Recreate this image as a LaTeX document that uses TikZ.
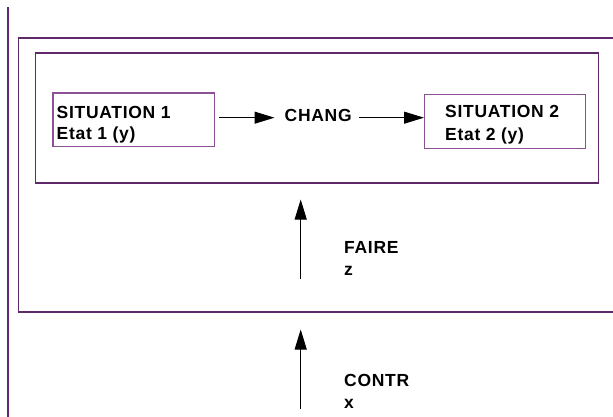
\documentclass[tikz,border=0pt]{standalone}
\usepackage{fontspec}
\setmainfont{Liberation Sans}[LetterSpace=4]
\usetikzlibrary{arrows.meta}

\definecolor{framecol}{RGB}{95,40,105}
\definecolor{boxcol}{RGB}{140,80,150}

\tikzset{
  frame/.style={draw=framecol, line width=1.5pt, inner sep=0pt, anchor=north west},
  box/.style={draw=boxcol, line width=1.4pt, inner sep=0pt, anchor=north west},
  lbl/.style={inner sep=0pt, anchor=base west, font=\bfseries\fontsize{17.5}{21}\selectfont},
  arr/.style={-{Triangle[length=20pt,width=12pt]}, line width=1pt, black}
}

\begin{document}
\begin{tikzpicture}[x=1pt, y=-1pt]
        \useasboundingbox (0,0) rectangle (613,416);
        % rule on the left
        \draw[framecol, line width=1.5pt] (8,7) -- (8,420);
        % frames
        \node[frame, minimum width=612pt, minimum height=274pt] (outer) at (17.7,37) {};
        \node[frame, minimum width=563pt, minimum height=129.7pt] (inner) at (34.7,52.3) {};
        % the two situations
        \node[box, minimum width=161.7pt, minimum height=53.7pt] (sit1) at (52.3,92.3) {};
        \node[box, minimum width=161pt, minimum height=54pt] (sit2) at (424,94) {};
        \node[lbl] (sit1a) at (56.5,118) {SITUATION 1};
        \node[lbl] (sit1b) at (56.5,139) {Etat 1 (y)};
        \node[lbl] (sit2a) at (445,117.7) {SITUATION 2};
        \node[lbl] (sit2b) at (445,140) {Etat 2 (y)};
        \node[lbl] (chang) at (284.5,121.7) {CHANG};
        \coordinate (changin) at ([yshift=-2pt]chang.west);
        \coordinate (changout) at ([yshift=-2pt]chang.east);
        \draw[arr, shorten <=4pt, shorten >=10pt] (sit1.east |- changin) -- (changin);
        \draw[arr, shorten <=7pt] (changout) -- (sit2.west |- changout);
        % faire
        \coordinate (fairetail) at (300.7,279);
        \draw[arr, shorten >=16pt] (fairetail) -- (fairetail |- inner.south);
        \node[lbl] (faire) at (344,253.3) {FAIRE};
        \node[lbl] (fairez) at (344,275) {z};
        % contr
        \coordinate (contrtail) at (300.7,409);
        \draw[arr, shorten >=17pt] (contrtail) -- (contrtail |- outer.south);
        \node[lbl] (contr) at (344,386.7) {CONTR};
        \node[lbl] (contrx) at (344,408) {x};
\end{tikzpicture}
\end{document}
